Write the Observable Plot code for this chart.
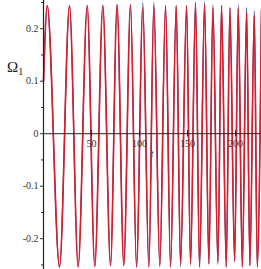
<!DOCTYPE html>
<html>
<head>
<meta charset="utf-8">
<script src="https://cdn.jsdelivr.net/npm/d3@7"></script>
<script src="https://cdn.jsdelivr.net/npm/@observablehq/plot@0.6"></script>
<style>
  html, body { margin: 0; padding: 0; background: #fff; }
  #wrap { position: relative; width: 261px; height: 269px; }
  #ylab { position: absolute; left: 7px; top: 59px; font-family: "Liberation Serif", "DejaVu Serif", serif; font-size: 15px; color: #222; }
  #ylab sub { font-size: 10px; vertical-align: -3px; }
</style>
</head>
<body>
<div id="wrap"><div id="ylab">Ω<sub>1</sub></div></div>
<script>
// start of the curve
const startT = 0;
const startRed = 0.10;
const startBlue = 0.10;

// maxima (time, red value, blue value)
const peakT    = [3.9, 27.1, 45.5, 61.8, 76.6, 90.6, 103.4, 114.9, 127.1, 138.2, 149.0, 158.3, 167.7, 176.4, 185.4, 194.1, 202.8, 211.5, 219.5, 227.0];
const peakRed  = [0.244, 0.244, 0.244, 0.244, 0.246, 0.246, 0.240, 0.244, 0.244, 0.244, 0.244, 0.248, 0.246, 0.240, 0.244, 0.240, 0.238, 0.231, 0.225, 0.235];
const peakBlue = [0.244, 0.244, 0.244, 0.244, 0.246, 0.246, 0.250, 0.250, 0.244, 0.244, 0.244, 0.251, 0.251, 0.246, 0.244, 0.240, 0.246, 0.240, 0.234, 0.235];

// minima (time, red value, blue value)
const troughT    = [16.7, 36.1, 53.4, 69.8, 83.6, 96.9, 109.7, 121.1, 132.3, 142.7, 153.1, 162.5, 172.2, 181.6, 190.3, 199.0, 207.0, 214.9, 222.6];
const troughRed  = [-0.254, -0.254, -0.253, -0.251, -0.251, -0.254, -0.254, -0.251, -0.254, -0.248, -0.247, -0.254, -0.248, -0.245, -0.254, -0.242, -0.254, -0.251, -0.254];
const troughBlue = [-0.254, -0.254, -0.253, -0.251, -0.251, -0.254, -0.254, -0.254, -0.254, -0.254, -0.251, -0.254, -0.248, -0.249, -0.254, -0.246, -0.254, -0.251, -0.254];

// axis ticks
const xTicks = [50, 100, 150, 200];
const yTicks = [-0.2, -0.1, 0, 0.1, 0.2];
const yMinor = [-0.25, -0.15, -0.05, 0.05, 0.15, 0.25];

function build(startV, pv, tv) {
  const pts = [{t: startT, v: startV}];
  peakT.forEach((t, i) => pts.push({t, v: pv[i]}));
  troughT.forEach((t, i) => pts.push({t, v: tv[i]}));
  return pts.sort((a, b) => a.t - b.t);
}
const blue = build(startBlue, peakBlue, troughBlue);
const red = build(startRed, peakRed, troughRed);

const serif = '"Liberation Serif", "DejaVu Serif", serif';

const chart = Plot.plot({
  width: 261,
  height: 269,
  marginLeft: 43,
  marginRight: 0,
  marginTop: 0,
  marginBottom: 0,
  style: {fontFamily: serif, background: "#fff"},
  x: {domain: [0, 227], axis: null},
  y: {domain: [-0.2587, 0.2537], axis: null},
  marks: [
    Plot.line(blue, {x: "t", y: "v", stroke: "#2b3a8c", strokeWidth: 1.2, curve: "monotone-x"}),
    Plot.line(red, {x: "t", y: "v", stroke: "#d81e2c", strokeWidth: 1.6, curve: "monotone-x"}),
    Plot.ruleY([0], {stroke: "#222", strokeWidth: 1}),
    Plot.ruleX(xTicks, {y1: -0.006, y2: 0.006, stroke: "#222"}),
    Plot.text(xTicks, {x: d => d, y: 0, dy: 10, text: d => String(d), fontSize: 10, fill: "#333", fontFamily: serif}),
    Plot.text(["t"], {x: 113, y: 0, dy: 20, text: d => d, fontSize: 10, fontStyle: "italic", fill: "#333", fontFamily: serif}),
    Plot.axisY({ticks: yTicks, tickSize: 3, tickFormat: d => d === 0 ? "0" : String(d).replace("−", "-"), fontSize: 10, color: "#333", tickPadding: 2, label: null}),
    Plot.ruleY(yMinor, {x1: -2, x2: 0, stroke: "#222"}),
    Plot.ruleX([0], {stroke: "#222", strokeWidth: 1.2})
  ]
});
document.getElementById("wrap").prepend(chart);
</script>
</body>
</html>
